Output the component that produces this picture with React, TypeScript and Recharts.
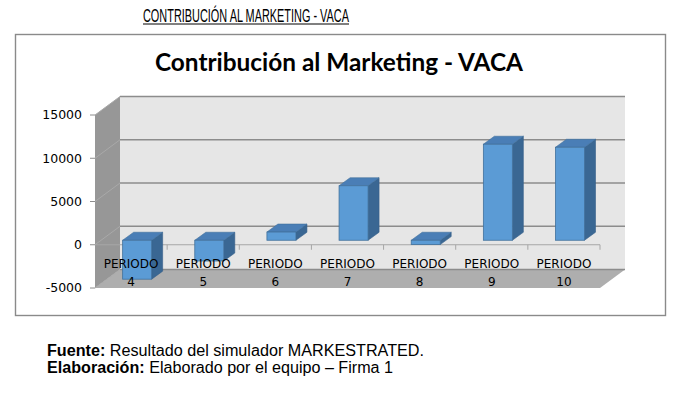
import React from 'react';
import { BarChart, Bar, XAxis, YAxis, CartesianGrid, ReferenceArea, ReferenceLine } from 'recharts';

// ---- data ----
const categories = ['PERIODO 4', 'PERIODO 5', 'PERIODO 6', 'PERIODO 7', 'PERIODO 8', 'PERIODO 9', 'PERIODO 10'];
const contribution = [-4500, -2400, 950, 6300, -500, 11100, 10750];
const yTicks = [-5000, 0, 5000, 10000, 15000];
const yDomain = [-5000, 15000];

const headerText = 'CONTRIBUCIÓN AL MARKETING - VACA';
const chartTitle = 'Contribución al Marketing - VACA';
const sourceLabel = 'Fuente:';
const sourceText = ' Resultado del simulador MARKESTRATED.';
const madeLabel = 'Elaboración:';
const madeText = ' Elaborado por el equipo – Firma 1';

const data = categories.map((name, i) => ({ name, value: contribution[i] }));

// ---- 3D styling constants ----
const WDX = 25; // wall depth x
const WDY = 18.5; // wall depth y
const BOX = 6; // bar plane offset x
const BOY = 4.5; // bar plane offset y
const BDX = 11; // bar depth x
const BDY = 8; // bar depth y

const Walls = (props: any) => {
  const { x, y, width, height } = props;
  if (x == null) return null;
  const b = y + height;
  return (
    <g>
      <rect x={x + WDX} y={y - WDY} width={width} height={height} fill="#E6E6E6" />
      <polygon
        points={`${x},${y} ${x + WDX},${y - WDY} ${x + WDX},${b - WDY} ${x},${b}`}
        fill="#979797"
      />
      <polygon
        points={`${x},${b} ${x + width},${b} ${x + width + WDX},${b - WDY} ${x + WDX},${b - WDY}`}
        fill="#AEAEAE"
      />
    </g>
  );
};

const gridLine = (props: any) => {
  const { x1, y1, x2, index } = props;
  return (
    <g key={`g-${index}-${y1}`}>
      <line x1={x1} y1={y1} x2={x1 + WDX} y2={y1 - WDY} stroke="#A9A9A9" strokeWidth={1} />
      <line x1={x1 + WDX} y1={y1 - WDY} x2={x2 + WDX} y2={y1 - WDY} stroke="#8C8C8C" strokeWidth={1.5} />
    </g>
  );
};

const ZeroAxis = (props: any) => {
  const { x1, x2, y1 } = props;
  if (x1 == null) return null;
  const n = categories.length;
  const step = (x2 - x1) / n;
  const ticks = [];
  for (let i = 1; i <= n; i++) {
    const tx = x1 + i * step;
    ticks.push(<line key={i} x1={tx} y1={y1} x2={tx} y2={y1 + 5} stroke="#A6A6A6" strokeWidth={1} />);
  }
  return (
    <g>
      <line x1={x1} y1={y1} x2={x2} y2={y1} stroke="#A6A6A6" strokeWidth={1} />
      {ticks}
    </g>
  );
};

const Bar3D = (props: any) => {
  const { x, y, width, height } = props;
  if (x == null || y == null) return null;
  const top = Math.min(y, y + height) - BOY;
  const bottom = Math.max(y, y + height) - BOY;
  const left = x + BOX;
  const right = left + width;
  return (
    <g>
      <polygon
        points={`${right},${top} ${right + BDX},${top - BDY} ${right + BDX},${bottom - BDY} ${right},${bottom}`}
        fill="#3A6793"
        stroke="#35608A"
        strokeWidth={0.6}
      />
      <polygon
        points={`${left},${top} ${right},${top} ${right + BDX},${top - BDY} ${left + BDX},${top - BDY}`}
        fill="#4A7EB6"
        stroke="#41719C"
        strokeWidth={0.6}
      />
      <rect x={left} y={top} width={width} height={bottom - top} fill="#5B9BD5" stroke="#41719C" strokeWidth={0.8} />
    </g>
  );
};

const CatTick = (props: any) => {
  const { x, y, payload } = props;
  const parts = String(payload.value).split(' ');
  return (
    <g>
      <text x={x} y={y - 20} textAnchor="middle" fontFamily="DejaVu Sans" fontSize={12} fill="#000">
        {parts[0]}
      </text>
      <text x={x} y={y - 2} textAnchor="middle" fontFamily="DejaVu Sans" fontSize={12} fill="#000">
        {parts[1]}
      </text>
    </g>
  );
};

export default function App() {
  return (
    <div style={{ position: 'absolute', left: 0, top: 0, width: 677, height: 394, background: '#fff' }}>
      <svg width={677} height={394} style={{ position: 'absolute', left: 0, top: 0 }}>
        <text
          x={143}
          y={21.5}
          fontFamily="Liberation Sans Narrow, Liberation Sans, Arial"
          fontSize={17.5}
          textLength={206}
          lengthAdjust="spacingAndGlyphs"
          fill="#000"
        >
          {headerText}
        </text>
        <line x1={143} y1={24} x2={349} y2={24} stroke="#000" strokeWidth={1} />
        <rect x={15.5} y={34.5} width={650} height={281} fill="#fff" stroke="#8A8A8A" strokeWidth={1.4} />
        <text
          x={155}
          y={71}
          fontFamily="Lato, Open Sans, sans-serif"
          fontWeight={700}
          fontSize={24}
          textLength={368}
          lengthAdjust="spacingAndGlyphs"
          fill="#000"
        >
          {chartTitle}
        </text>
        <text x={47} y={356} fontFamily="Liberation Sans, Arial" fontSize={16} textLength={377} lengthAdjust="spacingAndGlyphs" fill="#000">
          <tspan fontWeight={700}>{sourceLabel}</tspan>
          <tspan>{sourceText}</tspan>
        </text>
        <text x={47} y={373} fontFamily="Liberation Sans, Arial" fontSize={16} textLength={346} lengthAdjust="spacingAndGlyphs" fill="#000">
          <tspan fontWeight={700}>{madeLabel}</tspan>
          <tspan>{madeText}</tspan>
        </text>
      </svg>
      <div style={{ position: 'absolute', left: 0, top: 0 }}>
        <BarChart
          width={677}
          height={394}
          data={data}
          margin={{ top: 115, right: 77, bottom: 76, left: 35 }}
          barCategoryGap="30%"
        >
          <ReferenceArea y1={yDomain[0]} y2={yDomain[1]} shape={Walls} zIndex={-300} ifOverflow="visible" />
          <CartesianGrid vertical={false} horizontal={gridLine} zIndex={-200} />
          <ReferenceLine y={0} shape={ZeroAxis} zIndex={-150} ifOverflow="visible" />
          <XAxis
            dataKey="name"
            height={30}
            axisLine={false}
            tickLine={false}
            tickSize={0}
            tickMargin={0}
            interval={0}
            tick={CatTick}
          />
          <YAxis
            width={60}
            domain={yDomain}
            ticks={yTicks}
            interval={0}
            axisLine={false}
            tickLine={{ stroke: '#8C8C8C' }}
            tickSize={5}
            tickMargin={8}
            tick={{ fontFamily: 'DejaVu Sans', fontSize: 12.5, fill: '#000' }}
          />
          <Bar dataKey="value" isAnimationActive={false} shape={Bar3D} />
        </BarChart>
      </div>
    </div>
  );
}
